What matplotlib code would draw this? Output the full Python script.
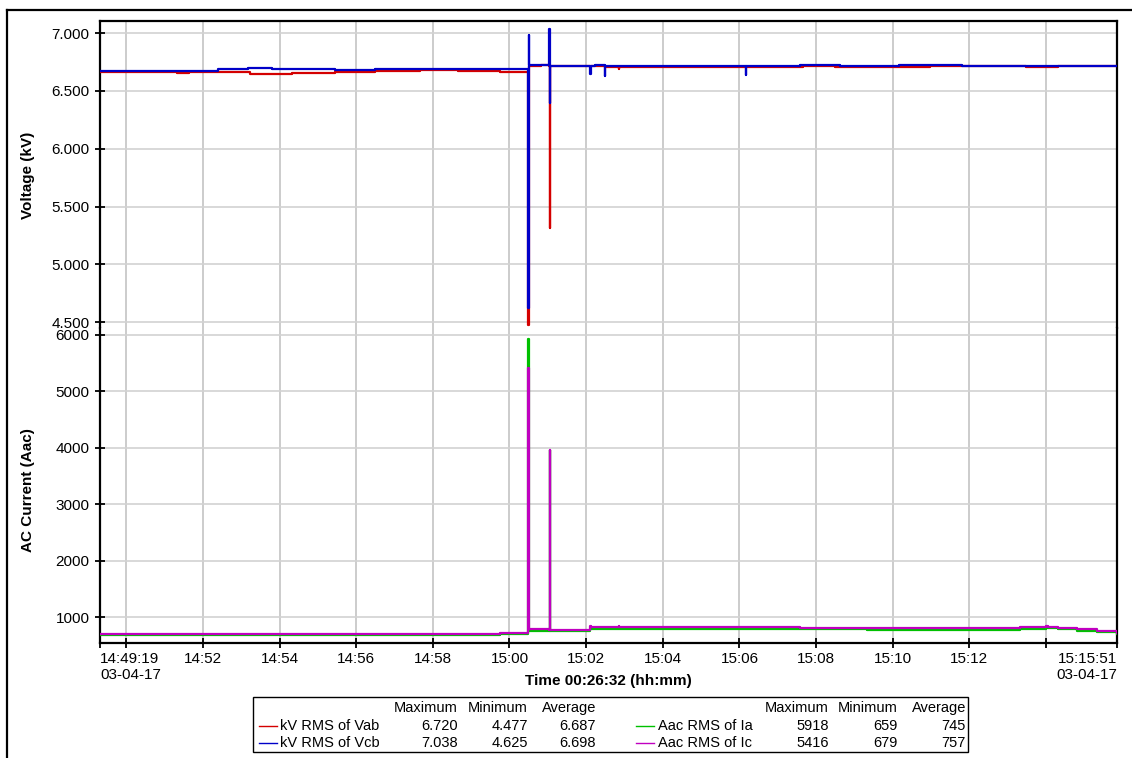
import matplotlib
matplotlib.use("Agg")
import matplotlib.pyplot as plt
from matplotlib.lines import Line2D
from matplotlib.patches import Rectangle

plt.rcParams['font.family'] = ['Liberation Sans', 'DejaVu Sans']

# ---- data (time in seconds after 14:49:19, 03-04-17) ----
vab_t = [0, 40, 90, 120, 140, 185, 235, 269, 300, 368, 430, 501, 560, 626, 670, 671, 672, 690, 703, 704, 705,
         740, 790, 811, 812, 813, 860, 900, 950, 1000, 1040, 1100, 1150, 1200, 1250, 1300, 1340, 1400,
         1450, 1500, 1550, 1592]
vab_v = [6.665, 6.662, 6.666, 6.658, 6.664, 6.665, 6.650, 6.648, 6.657, 6.665, 6.672, 6.678, 6.676, 6.663,
         4.477, 5.350, 6.718, 6.720, 6.716, 5.318, 6.712, 6.711, 6.708, 6.709, 6.690, 6.710, 6.704, 6.708,
         6.704, 6.710, 6.706, 6.712, 6.708, 6.709, 6.703, 6.712, 6.716, 6.713, 6.709, 6.711, 6.715, 6.712]

vcb_t = [0, 40, 90, 140, 185, 232, 269, 368, 430, 501, 560, 626, 670, 671, 672, 703, 704, 705, 767, 768,
         775, 790, 791, 900, 1011, 1012, 1096, 1158, 1250, 1300, 1350, 1400, 1450, 1520, 1592]
vcb_v = [6.668, 6.671, 6.669, 6.672, 6.686, 6.700, 6.686, 6.682, 6.688, 6.690, 6.686, 6.685, 4.625, 6.980,
         6.723, 7.038, 6.396, 6.716, 6.643, 6.717, 6.725, 6.625, 6.716, 6.718, 6.640, 6.716, 6.724, 6.718,
         6.720, 6.724, 6.716, 6.718, 6.717, 6.715, 6.717]

ia_t = [0, 50, 110, 160, 200, 250, 300, 350, 400, 450, 501, 560, 600, 626, 670, 671, 672, 690, 703, 704,
        705, 767, 812, 900, 1011, 1096, 1200, 1300, 1409, 1440, 1481, 1500, 1530, 1560, 1592]
ia_v = [686, 682, 688, 680, 686, 678, 684, 680, 688, 682, 680, 684, 690, 700, 5918, 3900, 758, 764, 756,
        3960, 756, 792, 796, 800, 798, 792, 782, 776, 778, 800, 812, 790, 760, 735, 705]

ic_t = [0, 50, 110, 160, 200, 250, 300, 350, 400, 450, 501, 560, 600, 626, 670, 671, 672, 690, 703, 704,
        705, 767, 768, 812, 813, 900, 1011, 1096, 1200, 1300, 1409, 1440, 1481, 1484, 1500, 1530, 1560, 1592]
ic_v = [703, 700, 705, 702, 706, 700, 704, 702, 706, 703, 704, 708, 712, 716, 5416, 3900, 786, 790, 778,
        3960, 776, 853, 822, 850, 822, 826, 824, 818, 808, 804, 806, 828, 845, 830, 815, 785, 755, 726]

x_ticks = [0, 41, 161, 281, 401, 521, 641, 761, 881, 1001, 1121, 1241, 1361, 1481, 1592]
x_labels = ['14:49:19\n03-04-17', '', '14:52', '14:54', '14:56', '14:58', '15:00', '15:02', '15:04',
            '15:06', '15:08', '15:10', '15:12', '', '15:15:51\n03-04-17']
v_ticks = [4.5, 5.0, 5.5, 6.0, 6.5, 7.0]
i_ticks = [1000, 2000, 3000, 4000, 5000, 6000]

series_names = ['kV RMS of Vab', 'kV RMS of Vcb', 'Aac RMS of Ia', 'Aac RMS of Ic']
stat_max = ['6.720', '7.038', '5918', '5416']
stat_min = ['4.477', '4.625', '659', '679']
stat_avg = ['6.687', '6.698', '745', '757']

c_red, c_blue, c_green, c_mag = '#d40000', '#0000c8', '#00c000', '#c000c0'

W_PX, H_PX = 1132, 758
fig = plt.figure(figsize=(W_PX / 100, H_PX / 100), dpi=100)

def fx(p):
    return p / W_PX

def fy(p):
    return 1 - p / H_PX

L, R = fx(100), fx(1117)
top, mid, bot = fy(21), fy(328), fy(643)
axV = fig.add_axes([L, mid, R - L, top - mid])
axI = fig.add_axes([L, bot, R - L, mid - bot], sharex=axV)

lw = 1.6
axV.plot(vab_t, vab_v, color=c_red, lw=lw, drawstyle='steps-post', zorder=3)
axV.plot(vcb_t, vcb_v, color=c_blue, lw=lw, drawstyle='steps-post', zorder=4)
axI.plot(ia_t, ia_v, color=c_green, lw=lw, drawstyle='steps-post', zorder=3)
axI.plot(ic_t, ic_v, color=c_mag, lw=lw, drawstyle='steps-post', zorder=4)

axV.set_xlim(0, 1592)
axV.set_ylim(4.451, 7.104)
axI.set_ylim(545, 6115)

for ax in (axV, axI):
    for s in ax.spines.values():
        s.set_linewidth(1.6)
        s.set_color('black')
    ax.grid(True, axis='x', color='#c4c4c4', lw=1.2)
    ax.grid(True, axis='y', color='#d2d2d2', lw=1.2)
    ax.set_axisbelow(True)
    ax.tick_params(axis='y', direction='inout', length=7, width=1.3, pad=4, labelsize=11)
    ax.tick_params(axis='x', direction='inout', length=7, width=1.3, pad=3, labelsize=11)

axV.spines['bottom'].set_visible(False)
axI.spines['top'].set_visible(False)

axV.set_yticks(v_ticks)
axV.set_yticklabels(['%.3f' % v for v in v_ticks])
axI.set_yticks(i_ticks)
axI.set_yticklabels([str(v) for v in i_ticks])

axV.set_xticks(x_ticks)
axV.tick_params(axis='x', bottom=False, labelbottom=False)
axI.set_xticks(x_ticks)
axI.set_xticklabels(x_labels)
tl = axI.get_xticklabels()
tl[0].set_ha('left')
tl[0].set_multialignment('left')
tl[-1].set_ha('right')
tl[-1].set_multialignment('right')

fig.text(fx(28), fy(175), 'Voltage (kV)', rotation=90, ha='center', va='center',
         fontsize=11, fontweight='bold')
fig.text(fx(28), fy(490), 'AC Current (Aac)', rotation=90, ha='center', va='center',
         fontsize=11, fontweight='bold')
fig.text(fx(608.5), fy(681), 'Time 00:26:32 (hh:mm)', ha='center', va='center',
         fontsize=11, fontweight='bold')

# outer frame lines
fig.add_artist(Line2D([fx(7), 1.0], [fy(10), fy(10)], transform=fig.transFigure, color='black', lw=1.6))
fig.add_artist(Line2D([fx(7), fx(7)], [fy(10), 0.0], transform=fig.transFigure, color='black', lw=1.6))

# legend table
fig.add_artist(Rectangle((fx(253), fy(752)), fx(968) - fx(253), fy(697) - fy(752),
                         transform=fig.transFigure, fill=False, edgecolor='black', lw=1.0))
fs = 10.5
row_y = [fy(708), fy(726), fy(743)]
groups = [
    dict(line_x=(259, 277), name_x=280, cols=(458, 528, 596), idx=(0, 1), colors=(c_red, c_blue)),
    dict(line_x=(636, 654), name_x=658, cols=(829, 898, 966), idx=(2, 3), colors=(c_green, c_mag)),
]
for g in groups:
    for head, cx in zip(['Maximum', 'Minimum', 'Average'], g['cols']):
        fig.text(fx(cx), row_y[0], head, ha='right', va='center', fontsize=fs)
    for r, (i, col) in enumerate(zip(g['idx'], g['colors'])):
        y = row_y[r + 1]
        fig.add_artist(Line2D([fx(g['line_x'][0]), fx(g['line_x'][1])], [y, y],
                              transform=fig.transFigure, color=col, lw=1.0))
        fig.text(fx(g['name_x']), y, series_names[i], ha='left', va='center', fontsize=fs)
        for val, cx in zip([stat_max[i], stat_min[i], stat_avg[i]], g['cols']):
            fig.text(fx(cx), y, val, ha='right', va='center', fontsize=fs)

fig.savefig('out.png', dpi=100)
